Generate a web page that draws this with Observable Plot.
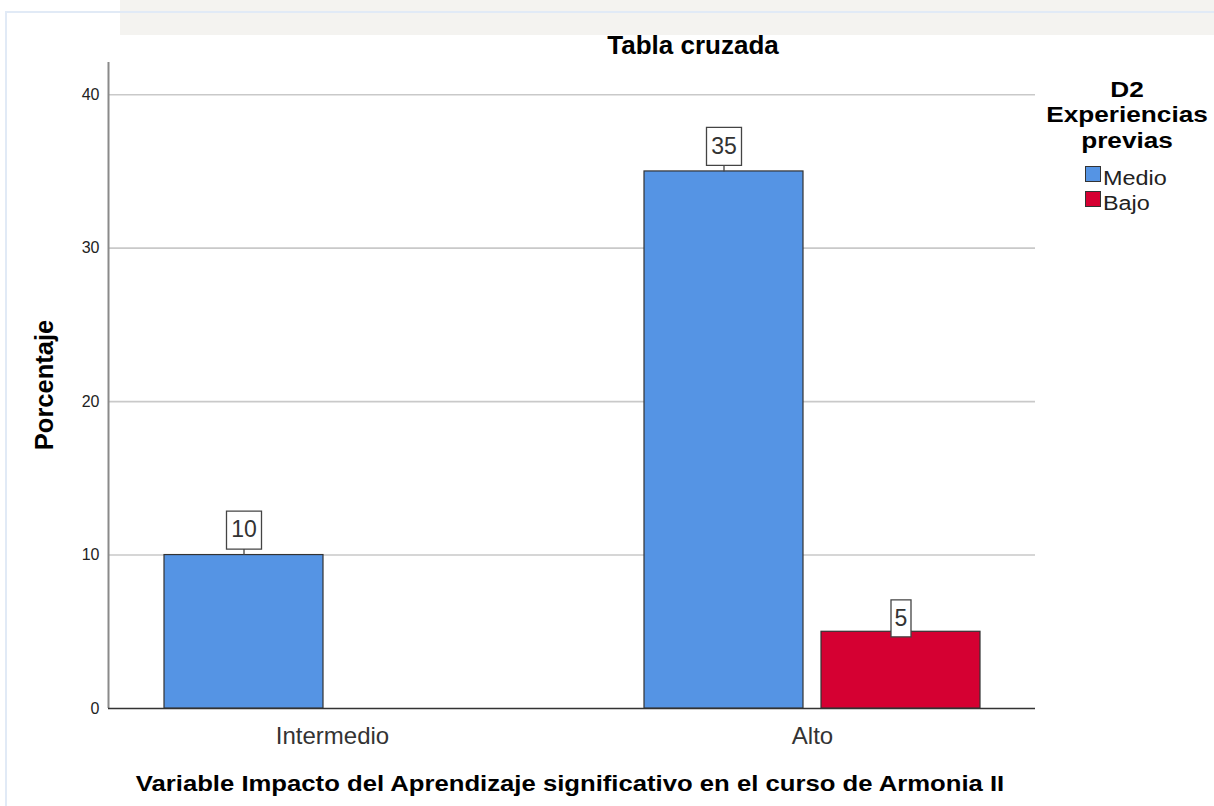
<!DOCTYPE html>
<html>
<head>
<meta charset="utf-8">
<script src="https://cdn.jsdelivr.net/npm/d3@7"></script>
<script src="https://cdn.jsdelivr.net/npm/@observablehq/plot@0.6"></script>
<style>
  body { margin: 0; background: #fff; font-family: "Liberation Sans", Arial, sans-serif; }
  #wrap { position: relative; width: 1214px; height: 806px; overflow: hidden; background: #fff; }
  #wrap svg { position: absolute; left: 0; top: 0; }
  .band { position: absolute; left: 120px; top: 0; width: 1094px; height: 35px; background: #f4f3f0; }
  .border-top { position: absolute; left: 5px; top: 11px; width: 1209px; height: 0; border-top: 2px solid #e1eaf6; }
  .border-left { position: absolute; left: 5px; top: 11px; width: 0; height: 795px; border-left: 2px solid #e1eaf6; }
  .title { position: absolute; left: 543px; width: 300px; top: 30px; text-align: center; font-weight: bold; font-size: 26px; line-height: 30px; color: #000; white-space: nowrap; }
  .ytitle { position: absolute; left: 44px; top: 385px; transform: translate(-50%, -50%) rotate(-90deg); font-weight: bold; font-size: 25.5px; white-space: nowrap; color: #000; }
  .xtitle { position: absolute; left: 0; width: 1140px; top: 770px; text-align: center; font-weight: bold; font-size: 22px; line-height: 28px; color: #000; white-space: nowrap; transform: scaleX(1.167); transform-origin: 570px 0; }
  .lt { position: absolute; left: 1047px; width: 160px; text-align: center; font-weight: bold; font-size: 22px; line-height: 25.5px; color: #000; white-space: nowrap; transform: scaleX(1.19); transform-origin: 80px 0; }
  .sw { position: absolute; left: 1085px; width: 14px; height: 14px; border: 1px solid #333; }
  .li { position: absolute; left: 1103px; font-size: 20px; line-height: 25px; color: #222; white-space: nowrap; transform: scaleX(1.17); transform-origin: 0 0; }
</style>
</head>
<body>
<div id="wrap"></div>
<script>
// ---- data ----
const categories = ["Intermedio", "Alto"];
const series = ["Medio", "Bajo"];
const medioValues = [10, 35];
const bajoValues = [null, 5];
const yTicks = [0, 10, 20, 30, 40];
const seriesColors = ["#5594e4", "#d50032"];
const chartTitle = "Tabla cruzada";
const xTitle = "Variable Impacto del Aprendizaje significativo en el curso de Armonia II";
const yTitle = "Porcentaje";
const legendTitle = ["D2", "Experiencias", "previas"];

const rows = [];
categories.forEach((c, i) => {
  if (medioValues[i] != null) rows.push({cat: c, serie: "Medio", value: medioValues[i]});
  if (bajoValues[i] != null) rows.push({cat: c, serie: "Bajo", value: bajoValues[i]});
});

// ---- layout ----
const W = 1214, H = 806;
const M = {left: 108, right: 179, top: 62, bottom: 98};
const yDomain = [0, 42.1];
const font = "'Liberation Sans', Arial, sans-serif";

function labelBox(w, h, gap, stem) {
  return {
    draw(ctx) {
      ctx.moveTo(-w / 2, -gap - h);
      ctx.lineTo(w / 2, -gap - h);
      ctx.lineTo(w / 2, -gap);
      ctx.lineTo(-w / 2, -gap);
      ctx.closePath();
      if (stem) {
        ctx.moveTo(0, -gap);
        ctx.lineTo(0, 0);
      }
    }
  };
}
const isWide = d => String(d.value).length > 1;

const wrap = document.getElementById("wrap");
function addDiv(cls, html, style) {
  const d = document.createElement("div");
  d.className = cls;
  d.innerHTML = html;
  if (style) d.setAttribute("style", style);
  wrap.appendChild(d);
  return d;
}
addDiv("band", "");

// background layer: grid, axis line, y ticks
const bg = Plot.plot({
  width: W, height: H,
  marginLeft: M.left, marginRight: M.right, marginTop: M.top, marginBottom: M.bottom,
  style: {fontFamily: font, fontSize: "16px", color: "#222", background: "transparent"},
  x: {domain: [0, 1], axis: null},
  y: {domain: yDomain, ticks: yTicks, tickSize: 0, tickPadding: 9, label: null, tickFormat: d => String(d)},
  marks: [
    Plot.ruleY(yTicks.filter(d => d > 0), {stroke: "#c9c9c9", strokeWidth: 1.6}),
    Plot.ruleX([0], {stroke: "#8a8a8a", strokeWidth: 2}),
    Plot.ruleY([0], {stroke: "#333", strokeWidth: 1.5})
  ]
});
wrap.appendChild(bg);

// foreground layer: bars, labels, category axis
const fg = Plot.plot({
  width: W, height: H,
  marginLeft: M.left, marginRight: M.right, marginTop: M.top, marginBottom: M.bottom,
  style: {fontFamily: font, fontSize: "24px", color: "#333", background: "transparent"},
  facet: {data: rows, x: "cat"},
  fx: {domain: categories, paddingInner: 0.3, paddingOuter: 0.115625, label: null, tickSize: 0, tickPadding: 18, axis: "bottom"},
  x: {domain: series, paddingInner: 18 / 177, paddingOuter: 0, axis: null},
  y: {domain: yDomain, axis: null},
  color: {domain: series, range: seriesColors},
  marks: [
    Plot.barY(rows, {x: "serie", y: "value", fill: "serie", stroke: "#333", strokeWidth: 1.2}),
    Plot.dot(rows, {filter: isWide, x: "serie", y: "value", symbol: labelBox(35, 38, 6, true), fill: "white", stroke: "#444", strokeWidth: 1.3}),
    Plot.dot(rows, {filter: d => !isWide(d), x: "serie", y: "value", symbol: labelBox(20, 37, -5, false), fill: "white", stroke: "#444", strokeWidth: 1.3}),
    Plot.text(rows, {filter: isWide, x: "serie", y: "value", text: d => String(d.value), dy: -25, fontSize: 23, fill: "#333"}),
    Plot.text(rows, {filter: d => !isWide(d), x: "serie", y: "value", text: d => String(d.value), dy: -13.5, fontSize: 23, fill: "#333"})
  ]
});
wrap.appendChild(fg);

// texts and legend
addDiv("border-top", "");
addDiv("border-left", "");
addDiv("title", chartTitle);
addDiv("ytitle", yTitle);
addDiv("xtitle", xTitle);
legendTitle.forEach((t, i) => addDiv("lt", t, `top:${76.6 + i * 25.5}px`));
series.forEach((s, i) => {
  addDiv("sw", "", `top:${166 + i * 25}px;background:${seriesColors[i]}`);
  addDiv("li", s, `top:${165.6 + i * 25}px`);
});
</script>
</body>
</html>
